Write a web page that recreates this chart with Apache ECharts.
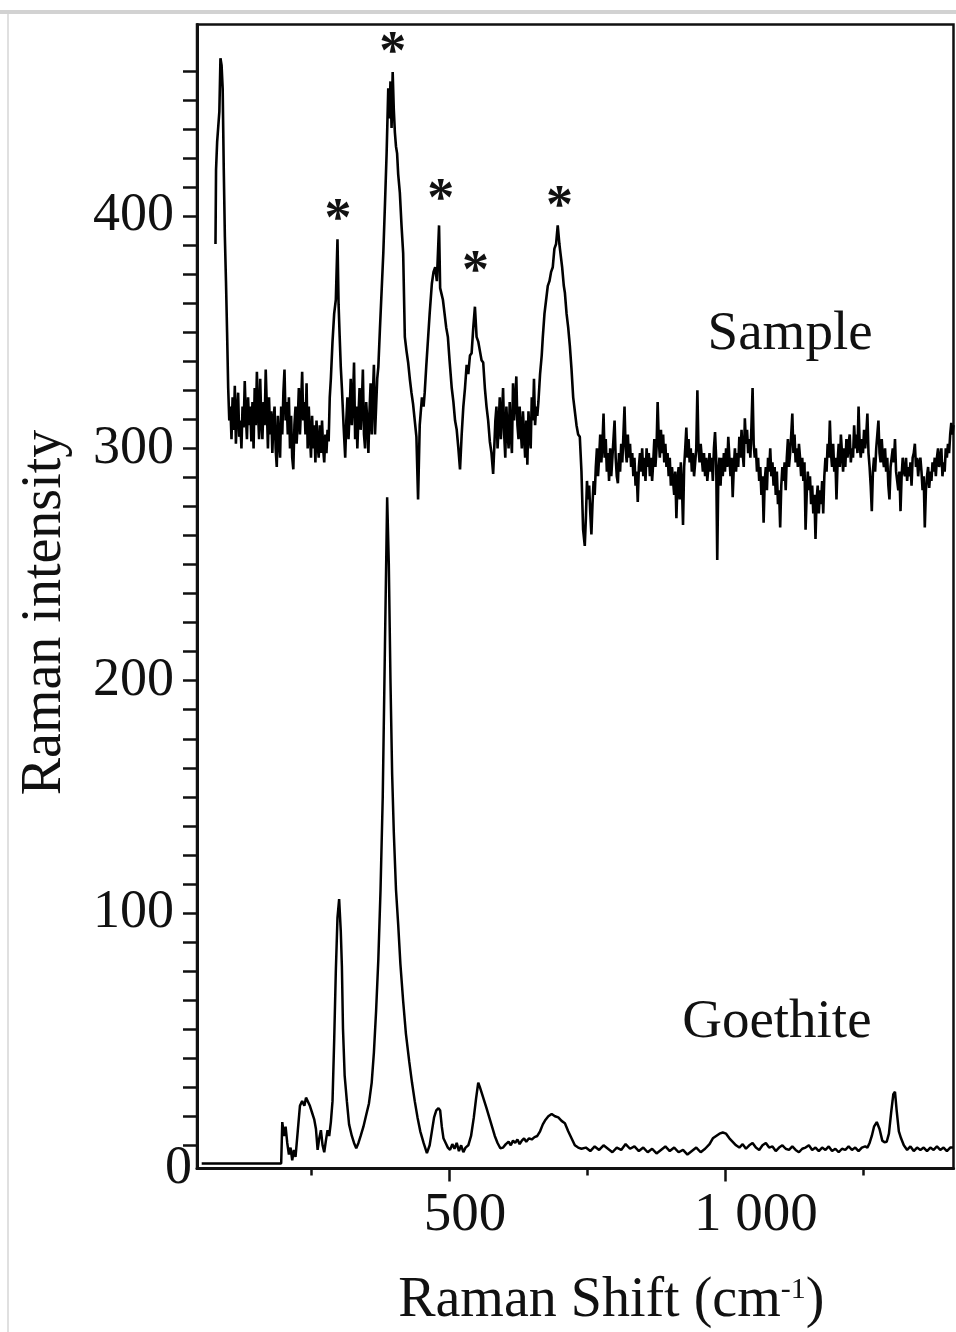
<!DOCTYPE html>
<html>
<head>
<meta charset="utf-8">
<script src="https://cdn.jsdelivr.net/npm/echarts@6.0.0/dist/echarts.min.js"></script>
<style>
  html, body { margin: 0; padding: 0; background: #fff; }
  #echart { width: 956px; height: 1332px; }
</style>
</head>
<body>
<div id="echart"></div>
<script>
// Raman shift (cm-1) / intensity pairs
var sampleSpectrum = [
  [77,388],[78,420],[80,432],[84,445],[86,468],[88,465],[90,455],[92,420],[94,391],[96,372],[98,350],[100,326],
  [102,312],[104,318],[106,304],[108,322],[110,308],[112,327],[114,302],[116,316],[118,324],[120,305],[122,312],[124,300],
  [126,318],[128,309],[130,329],[132,314],[134,304],[136,322],[138,310],[140,318],[142,303],[144,320],[146,300],[148,326],
  [150,310],[152,333],[154,316],[156,304],[158,330],[160,312],[162,304],[164,320],[166,310],[168,334],[170,318],[172,300],
  [174,322],[176,306],[178,316],[180,298],[182,312],[184,318],[186,300],[188,292],[190,314],[192,304],[194,296],[196,318],
  [198,306],[200,324],[202,334],[204,312],[206,320],[208,306],[210,322],[212,300],[214,314],[216,296],[218,291],[220,310],
  [222,318],[224,302],[226,312],[228,326],[230,306],[232,318],[234,333],[236,312],[238,320],[240,306],[242,328],[244,300],
  [246,318],[248,306],[250,296],[252,314],[254,300],[256,310],[258,294],[260,312],[262,302],[264,296],[266,310],[268,298],
  [270,312],[272,300],[274,294],[276,306],[278,298],[280,308],[282,303],[284,322],
  [286,330],[289,346],[292,358],[295,364],[298,390],[300,362],[302,348],[304,335],[306,326],[309,310],[312,296],
  [314,312],[316,322],[318,304],[320,316],[322,330],[324,310],[326,320],[328,337],[330,304],[332,318],[334,300],[336,314],
  [338,326],[340,308],[342,318],[344,334],[346,306],[348,300],[350,320],[352,312],[354,298],[356,316],[358,328],[360,306],
  [362,322],[364,336],[366,306],[368,318],[370,330],
  [372,335],[375,352],[378,368],[381,384],[384,405],[387,427],[390,455],[392,442],[394,458],[396,438],[398,462],[400,446],
  [402,436],[404,430],[406,427],[408,418],[411,410],[414,396],[417,384],[420,348],[423,342],[426,337],[429,330],[432,324],
  [435,319],[438,312],[441,305],[444,278],[447,310],[451,322],[454,318],[456,324],[459,336],[462,347],[465,358],[469,371],
  [472,376],[475,378],[478,372],[480,384],[482,396],[484,369],[487,366],[489,364],[492,358],[495,352],[498,348],[501,338],
  [505,326],[508,320],[511,312],[514,308],[517,300],[520,291],[523,306],[526,318],[529,326],[532,336],[535,332],[538,340],
  [541,341],[544,352],[547,361],[550,348],[553,346],[556,342],[559,338],[562,337],[565,326],[568,318],[571,312],[574,303],
  [577,298],[580,289],
  [582,300],[584,312],[586,318],[588,300],[590,310],[592,322],[594,304],[596,314],[598,326],[600,306],[602,296],[604,318],
  [606,308],[608,300],[610,320],[612,306],[614,298],[616,328],[618,312],[620,320],[622,331],[624,310],[626,304],[628,318],
  [630,308],[632,300],[634,316],[636,306],[638,296],[640,312],[642,293],[644,316],[646,306],[648,300],[650,322],[652,312],
  [654,330],[656,310],[658,318],[660,314],[662,320],
  [665,332],[668,340],[670,348],[673,358],[676,364],[679,370],[682,372],[685,376],[688,378],[691,386],[694,388],[697,396],
  [700,388],[702,384],[705,378],[708,370],[710,367],[713,358],[716,352],[719,344],[722,334],[725,322],[728,316],[731,310],
  [734,306],[737,305],[740,290],[743,265],[746,258],
  [748,270],[750,286],[752,278],[754,284],[756,272],[758,263],[760,276],[762,286],[764,280],[766,292],[768,300],[770,288],
  [772,296],[774,306],[776,294],[778,302],[780,315],[782,296],[784,304],[786,290],[788,298],[790,286],[792,300],[794,288],
  [796,296],[798,304],[800,312],[802,296],[804,288],[806,285],[808,298],[810,290],[812,302],[814,294],[816,306],[818,318],
  [820,300],[822,294],[824,306],[826,296],[828,302],[830,292],[832,298],[834,288],[836,296],[838,284],[840,290],[842,277],
  [844,292],[846,298],[848,290],[850,300],[852,288],[854,296],[856,286],[858,300],[860,292],[862,298],[864,288],[866,296],
  [868,286],[870,294],[872,304],[874,292],[876,300],[878,320],[880,304],[882,296],[884,308],[886,298],[888,306],[890,294],
  [892,302],[894,292],[896,298],[898,288],[900,296],[902,284],[904,292],[906,286],[908,280],[910,290],[912,270],[914,286],
  [916,292],[918,278],[920,294],[922,284],[924,267],[926,292],[928,300],[930,309],[932,296],[934,304],[936,294],[938,300],
  [940,290],[942,298],[944,288],[946,294],[948,300],[950,325],[952,300],[954,294],[956,302],[958,296],[960,290],[962,298],
  [964,288],[966,296],[968,286],[970,292],[972,298],[974,290],[976,296],[978,286],[980,300],[982,307],[984,296],[986,252],
  [988,290],[990,296],[992,284],[994,296],[996,288],[998,298],[1000,290],[1002,300],[1004,292],[1006,305],[1008,296],[1010,288],
  [1012,296],[1014,279],[1016,292],[1018,300],[1020,290],[1022,298],[1024,292],[1026,305],[1028,296],[1030,308],[1032,298],[1034,292],
  [1036,313],[1038,302],[1040,308],[1042,298],[1044,304],[1046,296],[1048,310],[1050,326],[1052,302],[1054,296],[1056,300],[1058,290],
  [1060,296],[1062,286],[1064,292],[1066,280],[1068,288],[1070,268],[1072,286],[1074,292],[1076,282],[1078,296],[1080,290],[1082,300],
  [1084,288],[1086,294],[1088,284],[1090,292],[1092,280],[1094,290],[1096,276],[1098,282],[1100,266],[1102,284],[1104,292],[1106,286],
  [1108,294],[1110,282],[1112,296],[1114,304],[1116,292],[1118,298],[1120,306],[1122,315],[1124,298],[1126,306],[1128,294],[1130,300],
  [1132,292],[1134,302],[1136,296],[1138,288],[1140,296],[1142,286],[1144,294],[1146,265],[1148,280],[1150,290],[1152,282],[1154,288],
  [1156,276],[1158,284],[1160,272],[1162,280],[1164,261],[1166,278],[1168,284],[1170,272],[1172,282],[1174,276],[1176,286],[1178,272],
  [1180,288],[1182,296],[1184,290],[1186,302],[1188,296],[1190,312],[1192,298],[1194,292],[1196,302],[1198,290],[1200,296],[1202,278],
  [1204,294],[1206,302],[1208,292],[1210,306],[1212,298],[1214,290],[1216,300],[1218,292],[1220,304],[1222,296],[1224,302],[1226,306],
  [1228,294],[1230,300],[1232,296],[1234,310],[1236,300],[1238,306],[1240,298],[1242,318],[1244,302],[1246,296],[1248,304],[1250,298],
  [1252,308],[1254,300],[1256,306],[1258,315],[1260,298],[1262,292],[1264,284],[1266,273],[1268,290],[1270,296],[1272,290],[1274,300],
  [1276,306],[1278,312],[1280,298],[1282,294],[1284,304],[1286,296],[1288,292],[1290,300],[1292,290],[1294,296],[1296,284],[1298,278],
  [1300,292],[1302,296],[1304,300],[1306,294],[1308,304],[1310,290],[1312,286],[1314,282],[1316,290],[1318,273],[1320,288],[1322,296],
  [1324,290],[1326,288],[1328,296],[1330,286],[1332,292],[1334,288],[1336,294],[1338,284],[1340,296],[1342,298],[1344,302],[1346,292],
  [1348,296],[1350,288],[1352,294],[1354,296],[1356,290],[1358,282],[1360,288],[1362,266],[1364,282],[1366,288],[1368,292],[1370,283],
  [1372,290],[1374,286],[1376,294],[1378,290],[1380,296],[1382,288],[1384,296],[1386,300],[1388,292],[1390,296],[1392,300],[1394,288],
  [1396,294],[1398,290],[1400,300],[1402,296],[1404,302],[1406,298],[1408,306],[1410,311],[1412,306],[1414,310]
];

var goethiteSpectrum = [
  [52,-7.8],[196,-7.8],[198,10],[201,4],[204,8],[207,1],[210,-4],[213,-1],[216,-6.5],[219,-2],[222,-5],[226,6],
  [230,17],[234,19],[238,17],[241,20.5],[244,19],[248,17],[252,14],[256,11],[259,7],[262,-2],[265,3],[268,6.5],
  [271,0],[274,-3],[277,2],[280,6.5],[283,4],[286,10],[289,19],[292,45],[295,75],[298,98],[301,106],[304,92],
  [306,77],[308,50],[311,30],[315,19],[319,9],[324,4],[328,1],[332,-1.3],[336,1],[340,4],[345,8],[350,13],
  [355,18],[360,27],[364,40],[368,58],[372,80],[376,110],[380,150],[384,215],[388,279],[391,250],[394,200],[397,160],
  [400,135],[404,110],[408,95],[412,78],[417,62],[422,48],[428,36],[433,27],[438,19],[443,12],[448,6],[454,1],
  [460,-3.4],[465,0],[469,6],[473,12],[477,15],[481,16],[484,15],[487,8],[490,3],[494,1],[498,-1],[502,-2],
  [506,0.5],[510,-1.5],[514,1],[518,-2.5],[522,0],[526,-3],[530,-1],[535,0],[540,4],[545,12],[549,20],[553,27],
  [556,25],[560,22],[564,19],[568,16],[573,12],[578,8],[583,4],[588,1],[593,-1.3],[598,-1],[603,0.5],[608,1.5],
  [612,0],[616,2],[620,1],[624,2.5],[628,0.5],[632,2],[636,3],[640,1.5],[645,3],[650,2.5],[655,3.5],[660,4],
  [665,6],[670,9],[675,11],[680,12.5],[686,13.5],[692,12.5],[698,12],[704,10.5],[710,9.5],[716,6],[722,3],[728,0],
  [734,-1],[740,-1.5],[748,-1],[756,-2.5],[764,-0.5],[772,-2],[780,0],[788,-1.5],[796,-3],[804,-1],[812,-2],[820,0.5],
  [828,-1.5],[836,-0.5],[844,-2.5],[852,-1],[860,-3],[868,-1.5],[876,-3.5],[884,-2],[892,-0.5],[900,-2.5],[908,-1],[916,-3],
  [924,-2],[932,-4],[940,-2.5],[948,-1],[956,-3],[964,-1.5],[972,0.5],[978,3],[984,4],[990,5],[996,5.5],[1002,5],
  [1008,3],[1014,1.5],[1020,0],[1026,-1],[1032,0.5],[1038,-1.5],[1044,0],[1050,1],[1056,-1],[1062,-2],[1068,0],[1074,1],
  [1080,-1],[1086,-0.5],[1092,-2.5],[1098,-1],[1104,0],[1110,-1.5],[1116,-2],[1122,-0.5],[1128,-2],[1134,-3],[1140,-1.5],[1146,-1],
  [1152,0],[1158,-2],[1164,-1],[1170,-2.5],[1176,-1],[1182,-2],[1188,-0.5],[1194,-2.5],[1200,-1.5],[1206,-3],[1212,-1.5],[1218,-2],
  [1224,-0.5],[1230,-2],[1236,-1],[1242,-2.5],[1248,-1],[1254,-0.5],[1258,-1],[1262,1],[1266,4],[1270,8],[1275,10],[1280,7],
  [1285,2],[1289,1.3],[1293,1.5],[1297,5],[1301,14],[1305,22],[1308,23],[1311,15],[1315,6],[1319,3],[1324,0],[1330,-2],
  [1336,-0.5],[1342,-2.5],[1348,-1],[1354,-2],[1360,-1],[1366,-2.5],[1372,-1],[1378,-2],[1384,-0.5],[1390,-2],[1396,-1],[1402,-2.5],
  [1408,-1],[1413,-1]
];

// asterisks over the sample peaks
var starMarks = [[299,402],[398,474],[485,411],[548,380],[700,408]];
var seriesTags = [
  {name: 'Sample', value: [1118,349]},
  {name: 'Goethite', value: [1094,53]}
];

var xLabelValues = [500, 1000];
var xMinorTicks = [250, 750, 1250];
var yLabelValues = [-10, 100, 200, 300, 400];
var yTickValues = [];
for (var t = 0; t <= 462.5; t += 12.5) { yTickValues.push(t); }

var serif = '"Liberation Serif", "DejaVu Serif", serif';

var myChart = echarts.init(document.getElementById('echart'));

var option = {
    animation: false,
    backgroundColor: '#fff',
    graphic: [
        {type: 'rect', shape: {x: 0, y: 10, width: 956, height: 4}, style: {fill: '#d2d2d2'}, silent: true},
        {type: 'rect', shape: {x: 7, y: 14, width: 2, height: 1318}, style: {fill: '#e0e0e0'}, silent: true}
    ],
    grid: {
        left: 197,
        right: 2.5,
        top: 24.5,
        bottom: 163.5,
        outerBoundsMode: 'none',
        show: true,
        borderColor: '#111',
        borderWidth: 2.5
    },
    xAxis: [{
        type: 'value',
        min: 43.5,
        max: 1414,
        name: '{n|Raman Shift (cm}{s|-1}{n|)}',
        nameLocation: 'middle',
        nameGap: 105,
        nameTextStyle: {
            padding: [0, 0, 0, 72],
            rich: {
                n: {fontFamily: serif, fontSize: 56, color: '#111'},
                s: {fontFamily: serif, fontSize: 30, color: '#111', verticalAlign: 'top', padding: [2, 0, 0, 0]}
            }
        },
        axisLine: {onZero: false, lineStyle: {color: '#111', width: 3}},
        axisTick: {customValues: xLabelValues, length: 13, lineStyle: {color: '#111', width: 2.5}},
        axisLabel: {
            customValues: xLabelValues,
            margin: 20,
            formatter: function (v) {
                if (v === 1000) return '{b|1 000}';
                return '{a|' + v + '}';
            },
            rich: {
                a: {fontFamily: serif, fontSize: 55, color: '#111', padding: [0, 0, 0, 32]},
                b: {fontFamily: serif, fontSize: 55, color: '#111', padding: [0, 0, 0, 62]}
            }
        },
        splitLine: {show: false}
    }, {
        // minor ticks only
        type: 'value',
        position: 'bottom',
        min: 43.5,
        max: 1414,
        axisLine: {show: false, onZero: false},
        axisTick: {customValues: xMinorTicks, length: 7, lineStyle: {color: '#111', width: 2.5}},
        axisLabel: {show: false},
        splitLine: {show: false}
    }],
    yAxis: {
        type: 'value',
        min: -10,
        max: 482.5,
        name: 'Raman intensity',
        nameLocation: 'middle',
        nameRotate: 90,
        nameGap: 124,
        nameTextStyle: {fontFamily: serif, fontSize: 56, color: '#111', padding: [0, 32, 0, 0]},
        axisLine: {lineStyle: {color: '#111', width: 3}},
        axisTick: {customValues: yTickValues, length: 14, lineStyle: {color: '#111', width: 2.5}},
        axisLabel: {
            customValues: yLabelValues,
            margin: 5,
            formatter: function (v) {
                if (v < 0) return '{z|0}';
                return '{a|' + v + '}';
            },
            rich: {
                a: {fontFamily: serif, fontSize: 54, color: '#111', padding: [0, 18, 0, 0]},
                z: {fontFamily: serif, fontSize: 54, color: '#111'}
            }
        },
        splitLine: {show: false}
    },
    series: [
        {
            name: 'Sample',
            type: 'line',
            data: sampleSpectrum,
            showSymbol: false,
            lineStyle: {color: '#000', width: 2.6},
            z: 3
        },
        {
            name: 'Goethite',
            type: 'line',
            data: goethiteSpectrum,
            showSymbol: false,
            lineStyle: {color: '#000', width: 2.5},
            z: 3
        },
        {
            name: 'stars',
            type: 'scatter',
            data: starMarks,
            symbolSize: 1,
            itemStyle: {color: 'rgba(0,0,0,0)', opacity: 1},
            label: {
                show: true,
                position: 'inside',
                formatter: '*',
                offset: [0, 10],
                fontFamily: serif,
                fontWeight: 'bold',
                fontSize: 54,
                color: '#111'
            },
            silent: true
        },
        {
            name: 'tags',
            type: 'scatter',
            data: seriesTags,
            symbolSize: 1,
            itemStyle: {color: 'rgba(0,0,0,0)', opacity: 1},
            label: {
                show: true,
                position: 'inside',
                formatter: '{b}',
                fontFamily: serif,
                fontSize: 55,
                color: '#111'
            },
            silent: true
        }
    ]
};

myChart.setOption(option);
window.onresize = myChart.resize;
</script>
</body>
</html>
